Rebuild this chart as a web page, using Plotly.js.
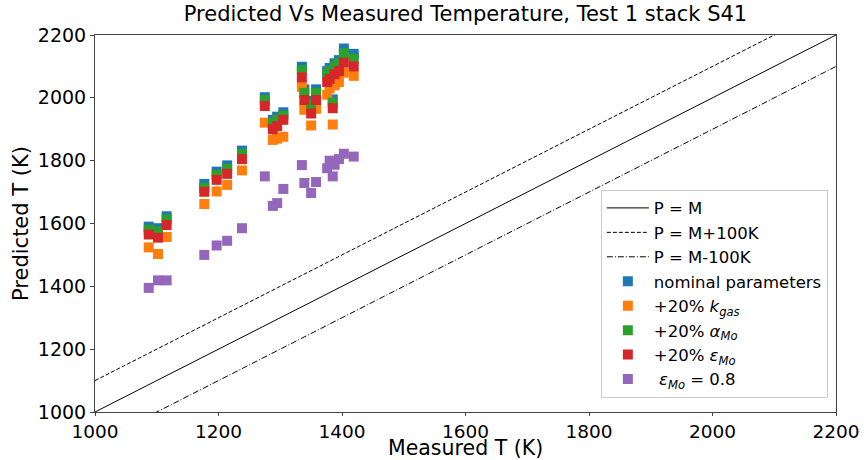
<!DOCTYPE html>
<html>
<head>
<meta charset="utf-8">
<script src="https://cdn.plot.ly/plotly-3.0.1.min.js"></script>
<style>html,body{margin:0;padding:0;background:#fff;}#chart{width:864px;height:460px;}</style>
</head>
<body>
<div id="chart"></div>
<script>
// Measured temperatures (K)
const measured = [1087, 1102, 1116, 1177, 1197, 1214, 1238, 1275, 1288, 1295, 1305,
                  1335, 1339, 1350, 1358, 1376, 1380, 1385, 1388, 1395, 1403, 1419];
// Predicted temperatures (K) per case
const nominal  = [1590, 1585, 1623, 1726, 1765, 1785, 1832, 2002, 1930, 1940, 1954,
                  2099, 2027, 1990, 2027, 2085, 2095, 1995, 2110, 2120, 2157, 2140];
const kgas     = [1524, 1503, 1557, 1662, 1702, 1723, 1769, 1921, 1866, 1870, 1876,
                  2035, 1962, 1912, 1965, 2010, 2030, 1915, 2040, 2050, 2080, 2070];
const alphaMo  = [1580, 1575, 1613, 1714, 1755, 1774, 1822, 1993, 1920, 1930, 1944,
                  2088, 2016, 1980, 2016, 2075, 2085, 1985, 2100, 2110, 2142, 2125];
const epsMo    = [1565, 1555, 1595, 1701, 1739, 1758, 1805, 1974, 1900, 1910, 1930,
                  2065, 1993, 1950, 1993, 2050, 2060, 1967, 2075, 2085, 2112, 2100];
const eps08    = [1395, 1419, 1419, 1500, 1530, 1545, 1585, 1750, 1656, 1665, 1710,
                  1786, 1729, 1697, 1732, 1776, 1800, 1750, 1787, 1805, 1822, 1813];
// Reference lines: P = M + offset
const lineX = [1000, 2200];
const lineOffsets = [0, 100, -100];
const lineNames = ['P = M', 'P = M+100K', 'P = M-100K'];
const lineDashes = ['solid', '4px,2px', '6px,2px,1px,2px'];

const seriesNames = ['nominal parameters', '+20% <i>k</i><sub><i>gas</i></sub>',
  '+20% <i>α</i><sub><i>Mo</i></sub>', '+20% <i>ε</i><sub><i>Mo</i></sub>', ' <i>ε</i><sub><i>Mo</i></sub> = 0.8'];
const seriesData = [nominal, kgas, alphaMo, epsMo, eps08];
const seriesColors = ['#1f77b4', '#ff7f0e', '#2ca02c', '#d62728', '#9467bd'];

const traces = [];
lineOffsets.forEach((off, i) => {
  traces.push({
    x: lineX, y: lineX.map(v => v + off), mode: 'lines', type: 'scatter',
    name: lineNames[i], line: {color: 'black', width: 1, dash: lineDashes[i]},
    hoverinfo: 'skip'
  });
});
seriesData.forEach((ys, i) => {
  traces.push({
    x: measured, y: ys, mode: 'markers', type: 'scatter', name: seriesNames[i],
    marker: {symbol: 'square', size: 10, color: seriesColors[i], line: {width: 0}}
  });
});

const axisCommon = {
  range: [1000, 2200], dtick: 200, tick0: 1000, showgrid: false, zeroline: false,
  showline: true, mirror: true, linecolor: '#444', linewidth: 1,
  ticks: 'outside', ticklen: 4, tickcolor: '#444',
  tickfont: {family: 'DejaVu Sans', size: 19, color: '#000'}
};

const layout = {
  width: 864, height: 460,
  margin: {l: 94.5, r: 28, t: 35, b: 47.5},
  paper_bgcolor: '#fff', plot_bgcolor: '#fff',
  font: {family: 'DejaVu Sans', color: '#000'},
  title: {text: 'Predicted Vs Measured Temperature, Test 1 stack S41',
          font: {family: 'DejaVu Sans', size: 21, color: '#000'},
          x: 0.5, xref: 'paper', xanchor: 'center', y: 1, yref: 'container', yanchor: 'top', pad: {t: 6}},
  xaxis: Object.assign({}, axisCommon, {ticklen: 3, tickfont: {family: 'DejaVu Sans', size: 18.5, color: '#000'}}),
  yaxis: Object.assign({}, axisCommon, {title: {text: 'Predicted T (K)', font: {family: 'DejaVu Sans', size: 21}, standoff: 3}}),
  annotations: [{
    text: 'Measured T (K)', xref: 'paper', yref: 'paper', x: 0.5, y: -0.1335,
    xanchor: 'center', yanchor: 'bottom', showarrow: false,
    font: {family: 'DejaVu Sans', size: 20.5, color: '#000'}
  }],
  showlegend: true,
  legend: {x: 0.989, y: 0.038, xanchor: 'right', yanchor: 'bottom', itemwidth: 42,
           bgcolor: 'rgba(255,255,255,0.9)', bordercolor: '#ccc', borderwidth: 1,
           font: {family: 'DejaVu Sans', size: 16.5, color: '#000'}}
};

Plotly.newPlot('chart', traces, layout, {displayModeBar: false, staticPlot: true});
</script>
</body>
</html>
